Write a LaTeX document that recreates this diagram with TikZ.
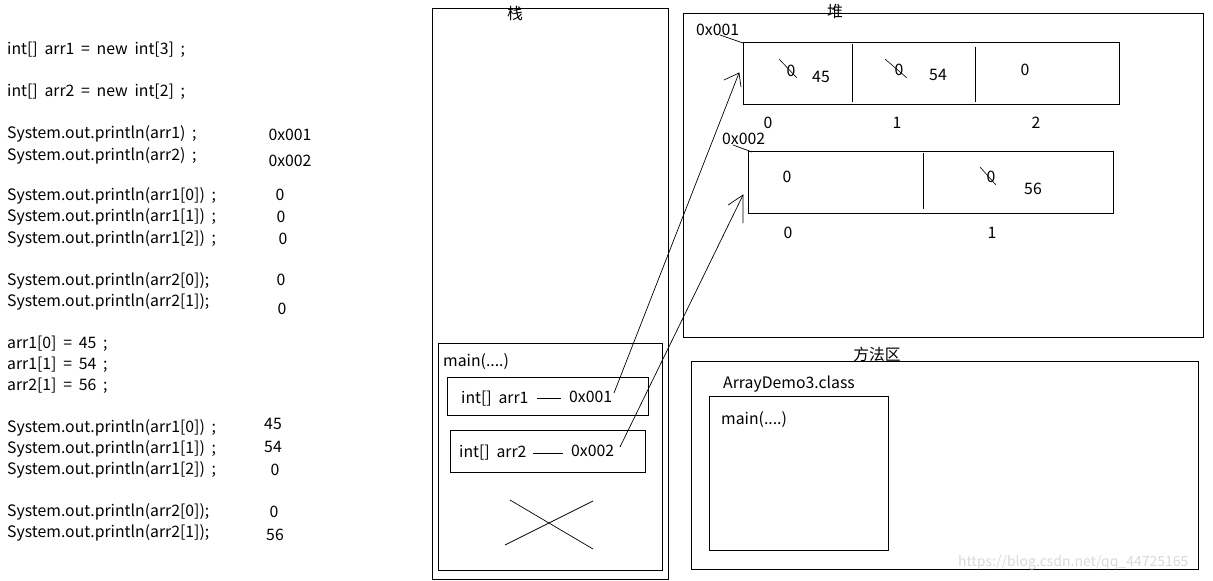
\documentclass[tikz,border=0pt]{standalone}
\usepackage{fontspec}
\setmainfont[WordSpace=1.9]{Noto Sans CJK SC}
\begin{document}
\begin{tikzpicture}[x=1pt,y=-1pt,
  txt/.style={anchor=west,inner sep=0pt,font=\fontsize{15.8}{18}\selectfont},
  ctxt/.style={inner sep=0pt,font=\fontsize{15.8}{18}\selectfont},
  frame/.style={draw,line width=1pt},
  wire/.style={draw,line width=0.7pt},
  strike/.style={draw,line width=0.6pt}]
\useasboundingbox (0,0) rectangle (1213,581);
% left code column
\foreach \t/\y [count=\i] in {
  {int[] arr1 = new int[3] ;}/50,
  {int[] arr2 = new int[2] ;}/92,
  {System.out.println(arr1) ;}/134,
  {System.out.println(arr2) ;}/156,
  {System.out.println(arr1[0]) ;}/196,
  {System.out.println(arr1[1]) ;}/217,
  {System.out.println(arr1[2]) ;}/239,
  {System.out.println(arr2[0]);}/281,
  {System.out.println(arr2[1]);}/302,
  {arr1[0] = 45 ;}/344,
  {arr1[1] = 54 ;}/365,
  {arr2[1] = 56 ;}/386,
  {System.out.println(arr1[0]) ;}/428,
  {System.out.println(arr1[1]) ;}/449,
  {System.out.println(arr1[2]) ;}/470,
  {System.out.println(arr2[0]);}/512,
  {System.out.println(arr2[1]);}/533}
  \node[txt] (code\i) at (7,\y) {\t};
% output column
\foreach \t/\x/\y [count=\i] in {
  0x001/290/135, 0x002/290/161, 0/280/195, 0/281/217, 0/283/239,
  0/281/280, 0/282/309, 45/273/424, 54/273/447, 0/275/470,
  0/274/512, 56/275/535}
  \node[ctxt] (out\i) at (\x,\y) {\t};

% stack
\draw[frame] (432,8) rectangle (668,579);
\node[ctxt] (stacklbl) at (515,13) {栈};
\draw[frame] (438,343) rectangle (662,570);
\node[txt] (smain) at (443,362) {main(....)};
\draw[frame] (447,377) rectangle (648,415);
\node[txt] (v1) at (461,399) {int[] arr1};
\node[txt] (a1) at (569,397) {0x001};
\draw[wire] (537,398) -- (561,398);
\draw[frame] (450,430) rectangle (645,472);
\node[txt] (v2) at (459,453) {int[] arr2};
\node[txt] (a2) at (571,451) {0x002};
\draw[wire] (533,453) -- (563,453);
\draw[wire] (510,500) -- (593,549);
\draw[wire] (505,545) -- (593,501);

% heap
\draw[frame] (683,13) rectangle (1203,337);
\node[ctxt] (heaplbl) at (835,12) {堆};
\node[txt] (h1) at (696,30) {0x001};
\draw[frame] (743,42) rectangle (1119,104);
\draw[frame] (852,44) -- (852,102);
\draw[frame] (975,47) -- (975,102);
\node[ctxt] (c10) at (791,71) {0};
\draw[strike] (779,59) -- (797,78);
\node[ctxt] (c10n) at (821,77) {45};
\node[ctxt] (c11) at (899,70) {0};
\draw[strike] (885,59) -- (907,78);
\node[ctxt] (c11n) at (938,75) {54};
\node[ctxt] (c12) at (1025,70) {0};
\node[ctxt] (i10) at (768,123) {0};
\node[ctxt] (i11) at (897,123) {1};
\node[ctxt] (i12) at (1036,123) {2};
\draw[wire] (720,35) -- (743,43);

\node[txt] (h2) at (722,139) {0x002};
\draw[frame] (748,151) rectangle (1113,213);
\draw[frame] (923,153) -- (923,209);
\node[ctxt] (c20) at (787,177) {0};
\node[ctxt] (c21) at (991,177) {0};
\draw[strike] (980,167) -- (996,185);
\node[ctxt] (c21n) at (1033,189) {56};
\node[ctxt] (i20) at (788,233) {0};
\node[ctxt] (i21) at (992,233) {1};
\draw[wire] (733,145) -- (752,152);

% references
\coordinate (t1) at (739,73);
\coordinate (t2) at (743,195);
\coordinate (s1) at (614,393);
\coordinate (s2) at (620,447);
\draw[wire] (s1) -- (t1);
\draw[wire] (724,80) -- (t1) -- (741,87);
\draw[wire] (s2) -- (t2);
\draw[wire] (728,205) -- (t2) -- (743,223);

% method area
\draw[frame] (691,361) rectangle (1198,569);
\node[ctxt] (marealbl) at (877,354) {方法区};
\node[txt] (cls) at (723,384) {ArrayDemo3.class};
\draw[frame] (709,396) rectangle (888,550);
\node[txt] (mmain) at (721,420) {main(....)};
\node[txt,text=black!15,font=\fontsize{14}{16}\selectfont] (wm) at (958,563) {https://blog.csdn.net/qq\_44725165};
\end{tikzpicture}
\end{document}
